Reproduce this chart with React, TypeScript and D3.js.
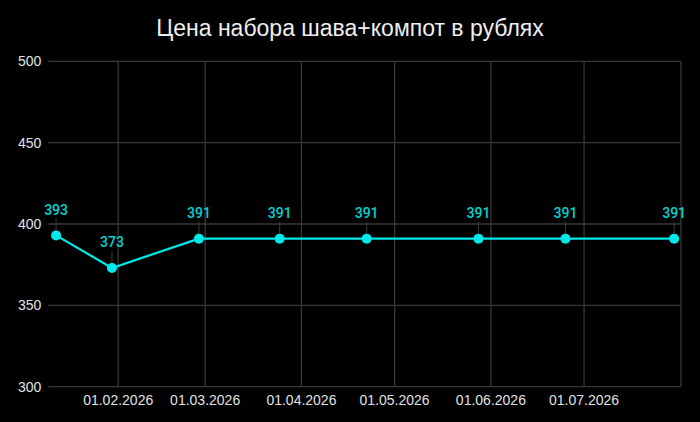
import { useEffect, useRef } from "react";
import * as d3 from "d3";

const TITLE = "Цена набора шава+компот в рублях";

// dates of the price checks and the price seen that day
const DATES = [
  "2026-01-12",
  "2026-01-30",
  "2026-02-27",
  "2026-03-25",
  "2026-04-22",
  "2026-05-28",
  "2026-06-25",
  "2026-07-30",
];
const PRICES = [393, 373, 391, 391, 391, 391, 391, 391];

const Y_TICKS = [300, 350, 400, 450, 500];
const X_TICKS = ["2026-02-01", "2026-03-01", "2026-04-01", "2026-05-01", "2026-06-01", "2026-07-01"];
const X_DOMAIN = ["2026-01-09T12:00", "2026-08-01T05:00"];

const parse = (s: string) => new Date(s);

export default function App() {
  const svgRef = useRef<SVGSVGElement>(null);

  useEffect(() => {
    const svg = svgRef.current;
    if (!svg) return;

    const W = 700;
    const H = 422;
    const m = { top: 61.3, right: 19, bottom: 35.3, left: 48.3 };
    const iW = W - m.left - m.right;
    const iH = H - m.top - m.bottom;

    const s = d3.select(svg);
    s.selectAll("*").remove();
    s.attr("width", W).attr("height", H);

    s.append("rect").attr("width", W).attr("height", H).attr("fill", "#000");

    s.append("text")
      .attr("x", W / 2)
      .attr("y", 36)
      .attr("text-anchor", "middle")
      .attr("fill", "#eeeeee")
      .attr("font-size", "23px")
      .style("font-family", "'Liberation Sans', Arial, sans-serif")
      .text(TITLE);

    const g = s.append("g").attr("transform", `translate(${m.left},${m.top})`);

    const x = d3.scaleTime().domain(X_DOMAIN.map(parse)).range([0, iW]);
    const y = d3.scaleLinear().domain([300, 500]).range([iH, 0]);

    const grid = "#383838";

    // horizontal grid
    g.append("g")
      .selectAll("line")
      .data(Y_TICKS)
      .join("line")
      .attr("x1", 0)
      .attr("x2", iW)
      .attr("y1", (d) => y(d))
      .attr("y2", (d) => y(d))
      .attr("stroke", grid)
      .attr("stroke-width", 1.3);

    // vertical grid at month starts + right border
    g.append("g")
      .selectAll("line")
      .data([...X_TICKS.map(parse), x.domain()[1]])
      .join("line")
      .attr("x1", (d) => x(d))
      .attr("x2", (d) => x(d))
      .attr("y1", 0)
      .attr("y2", iH)
      .attr("stroke", grid)
      .attr("stroke-width", 1.3);

    // y labels
    g.append("g")
      .selectAll("text")
      .data(Y_TICKS)
      .join("text")
      .attr("x", -7)
      .attr("y", (d) => y(d))
      .attr("dy", "0.36em")
      .attr("text-anchor", "end")
      .attr("fill", "#e0e0e0")
      .attr("font-size", "14px")
      .style("font-family", "'Liberation Sans', Arial, sans-serif")
      .text((d) => d);

    // x labels
    const fmt = d3.timeFormat("%d.%m.%Y");
    g.append("g")
      .selectAll("text")
      .data(X_TICKS.map(parse))
      .join("text")
      .attr("x", (d) => x(d))
      .attr("y", iH + 18.5)
      .attr("text-anchor", "middle")
      .attr("fill", "#e0e0e0")
      .attr("font-size", "14px")
      .style("font-family", "'Liberation Sans', Arial, sans-serif")
      .text((d) => fmt(d));

    const pts = DATES.map((d, i) => ({ date: parse(d), value: PRICES[i] }));
    const cyan = "#00e8e8";

    const line = d3
      .line<{ date: Date; value: number }>()
      .x((d) => x(d.date))
      .y((d) => y(d.value));

    // label connectors
    g.append("g")
      .selectAll("line")
      .data(pts)
      .join("line")
      .attr("x1", (d) => x(d.date))
      .attr("x2", (d) => x(d.date))
      .attr("y1", (d) => y(d.value) - 17)
      .attr("y2", (d) => y(d.value) - 4)
      .attr("stroke", "#3a3a3a")
      .attr("stroke-width", 1);

    g.append("path")
      .datum(pts)
      .attr("d", line)
      .attr("fill", "none")
      .attr("stroke", cyan)
      .attr("stroke-width", 2.2);

    g.append("g")
      .selectAll("circle")
      .data(pts)
      .join("circle")
      .attr("cx", (d) => x(d.date))
      .attr("cy", (d) => y(d.value))
      .attr("r", 5)
      .attr("fill", cyan);

    g.append("g")
      .selectAll("text")
      .data(pts)
      .join("text")
      .attr("x", (d) => x(d.date))
      .attr("y", (d) => y(d.value) - 20.5)
      .attr("text-anchor", "middle")
      .attr("fill", "#00d4d4")
      .attr("font-size", "14px")
      .attr("font-weight", 500)
      .style("font-family", "Roboto, sans-serif")
      .text((d) => d.value);
  }, []);

  return (
    <div style={{ position: "fixed", left: 0, top: 0, width: 700, height: 422, background: "#000" }}>
      <svg ref={svgRef} style={{ display: "block" }} />
    </div>
  );
}
